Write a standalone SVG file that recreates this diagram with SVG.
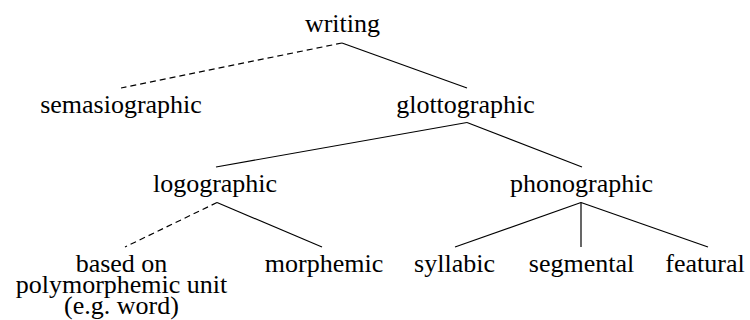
<svg xmlns="http://www.w3.org/2000/svg" width="750" height="320" viewBox="0 0 750 320">
<style>
.e{stroke:#000;stroke-width:1.2;fill:none}
.d{stroke-dasharray:6 4}
</style>
<rect width="750" height="320" fill="#fff"/>
<g id="connectors">
<line class="e d" x1="342" y1="43" x2="121" y2="88"/>
<line class="e" x1="342" y1="43" x2="467" y2="88"/>
<line class="e" x1="467" y1="122.5" x2="216" y2="167"/>
<line class="e" x1="467" y1="122.5" x2="582" y2="167"/>
<line class="e d" x1="217" y1="202.5" x2="125" y2="247"/>
<line class="e" x1="217" y1="202.5" x2="322" y2="247"/>
<line class="e" x1="581" y1="202.5" x2="455" y2="247"/>
<line class="e" x1="581" y1="202.5" x2="581" y2="247"/>
<line class="e" x1="581" y1="202.5" x2="708" y2="247"/>
</g>
<g id="writing"><text x="342.5" y="32" font-family="Liberation Serif" font-size="26" text-anchor="middle">writing</text></g>
<g id="semasiographic"><text x="121" y="113" font-family="Liberation Serif" font-size="26" text-anchor="middle">semasiographic</text></g>
<g id="glottographic"><text x="465.5" y="113" font-family="Liberation Serif" font-size="26" text-anchor="middle">glottographic</text></g>
<g id="logographic"><text x="215" y="192" font-family="Liberation Serif" font-size="26" text-anchor="middle">logographic</text></g>
<g id="phonographic"><text x="581.5" y="192" font-family="Liberation Serif" font-size="26" text-anchor="middle">phonographic</text></g>
<g id="polymorphemic">
<text x="121.5" y="272" font-family="Liberation Serif" font-size="26" text-anchor="middle">based on</text>
<text x="121.5" y="293" font-family="Liberation Serif" font-size="26" text-anchor="middle">polymorphemic unit</text>
<text x="121.5" y="314" font-family="Liberation Serif" font-size="26" text-anchor="middle">(e.g. word)</text>
</g>
<g id="morphemic"><text x="324" y="272" font-family="Liberation Serif" font-size="26" text-anchor="middle">morphemic</text></g>
<g id="syllabic"><text x="454.5" y="272" font-family="Liberation Serif" font-size="26" text-anchor="middle">syllabic</text></g>
<g id="segmental"><text x="581.5" y="272" font-family="Liberation Serif" font-size="26" text-anchor="middle">segmental</text></g>
<g id="featural"><text x="705" y="272" font-family="Liberation Serif" font-size="26" text-anchor="middle">featural</text></g>
</svg>
